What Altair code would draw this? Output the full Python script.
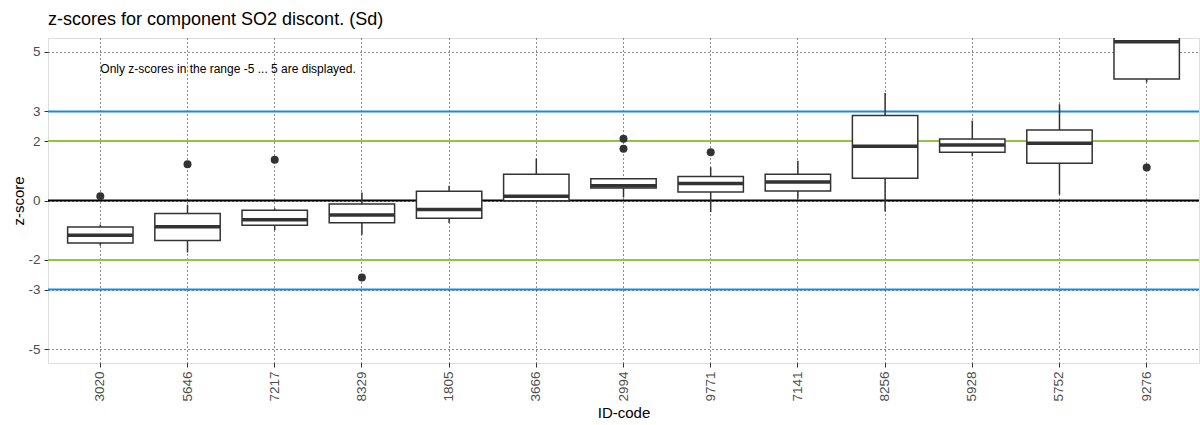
import altair as alt
import pandas as pd

ids = ["3020", "5646", "7217", "8329", "1805", "3666", "2994",
       "9771", "7141", "8256", "5928", "5752", "9276"]
lower = [-1.52, -1.75, -1.00, -1.15, -0.76, -0.01, 0.10, -0.39, 0.06, -0.37, 1.49, 0.20, 3.98]
q1 = [-1.43, -1.35, -0.83, -0.75, -0.60, -0.01, 0.42, 0.29, 0.32, 0.75, 1.62, 1.25, 4.09]
median = [-1.17, -0.88, -0.65, -0.49, -0.30, 0.14, 0.50, 0.57, 0.62, 1.83, 1.87, 1.93, 5.34]
q3 = [-0.89, -0.44, -0.33, -0.12, 0.31, 0.88, 0.73, 0.81, 0.88, 2.86, 2.07, 2.37, 6.2]
upper = [-0.81, -0.14, -0.26, 0.27, 0.50, 1.41, 0.76, 1.12, 1.34, 3.62, 2.69, 3.24, 6.5]

out_ids = ["3020", "5646", "7217", "8329", "2994", "2994", "9771", "9276"]
out_vals = [0.14, 1.22, 1.37, -2.59, 1.74, 2.08, 1.62, 1.11]

ref_vals = [0, 2, -2, 3, -3]
ref_cols = ["#000000", "#8DC63F", "#8DC63F", "#1A8ADB", "#1A8ADB"]

y_ticks = [-5, -3, -2, 0, 2, 3, 5]
note = "Only z-scores in the range -5 ... 5 are displayed."

FONT = "Liberation Sans"
W, H = 1151, 325
step = W / 13.2

box_df = pd.DataFrame({"id": ids, "lower": lower, "q1": q1, "median": median,
                       "q3": q3, "upper": upper})
out_df = pd.DataFrame({"id": out_ids, "v": out_vals})
ref_df = pd.DataFrame({"v": ref_vals, "c": ref_cols})
note_df = pd.DataFrame({"id": ["3020"], "v": [4.43], "t": [note]})

yscale = alt.Scale(domain=[-5.47, 5.47], nice=False, zero=False)
xscale = alt.Scale(domain=ids, paddingInner=0, paddingOuter=0.1)

x_enc = alt.X("id:N", sort=ids, scale=xscale,
              axis=alt.Axis(title="ID-code", labelAngle=270, bandPosition=0.5,
                            grid=True, gridDash=[1, 3], gridColor="#000000",
                            gridOpacity=0.9, gridWidth=1,
                            tickColor="#333333", tickSize=4, labelPadding=4,
                            labelFontSize=13.5, labelColor="#4D4D4D",
                            labelFont=FONT, titleFont=FONT, titleFontSize=15,
                            titleFontWeight="normal", titleColor="#000000",
                            titlePadding=4, domain=False))
y_axis = alt.Axis(title="z-score", values=y_ticks, labelExpr="'' + datum.value",
                  grid=True, gridDash=[1, 3],
                  gridColor="#000000", gridOpacity=0.9, gridWidth=1,
                  tickColor="#333333", tickSize=4, labelPadding=4,
                  labelFontSize=13.5, labelColor="#4D4D4D", labelFont=FONT,
                  titleFont=FONT, titleFontSize=15, titleFontWeight="normal",
                  titleColor="#000000", titlePadding=1, domain=False)

base = alt.Chart(box_df)

refs = alt.Chart(ref_df).mark_rule(strokeWidth=2).encode(
    y=alt.Y("v:Q", scale=yscale, axis=y_axis),
    color=alt.Color("c:N", scale=None),
)

whisk = base.mark_rule(color="#333333", strokeWidth=1.5, clip=True).encode(
    x=x_enc,
    y=alt.Y("lower:Q", scale=yscale, axis=y_axis),
    y2="upper:Q",
)

boxes = base.mark_bar(fill="white", stroke="#333333", strokeWidth=1.5,
                      width=alt.RelativeBandSize(0.75), clip=True).encode(
    x=x_enc,
    y=alt.Y("q1:Q", scale=yscale),
    y2="q3:Q",
)

meds = base.mark_tick(color="#333333", thickness=3.5, size=0.75 * step,
                      orient="horizontal", opacity=1, clip=True).encode(
    x=x_enc,
    y=alt.Y("median:Q", scale=yscale),
)

outs = alt.Chart(out_df).mark_circle(color="#333333", size=64, opacity=1).encode(
    x=x_enc,
    y=alt.Y("v:Q", scale=yscale),
)

txt = alt.Chart(note_df).mark_text(align="left", baseline="middle", fontSize=12,
                                    font=FONT, color="#000000").encode(
    x=x_enc,
    y=alt.Y("v:Q", scale=yscale),
    text="t:N",
)

chart = alt.layer(refs, whisk, boxes, meds, outs, txt).properties(
    width=W, height=H,
    autosize=alt.AutoSizeParams(type="none"),
    padding={"left": 48, "top": 38, "right": 1, "bottom": 62},
    title=alt.TitleParams("z-scores for component SO2 discont. (Sd)",
                          anchor="start", frame="group", fontSize=18,
                          font=FONT, fontWeight="normal", color="#000000",
                          offset=9),
).configure_view(stroke="#4D4D4D", strokeWidth=1).configure(background="white")

chart.save("out.html", embed_options={"renderer": "svg", "actions": False})
